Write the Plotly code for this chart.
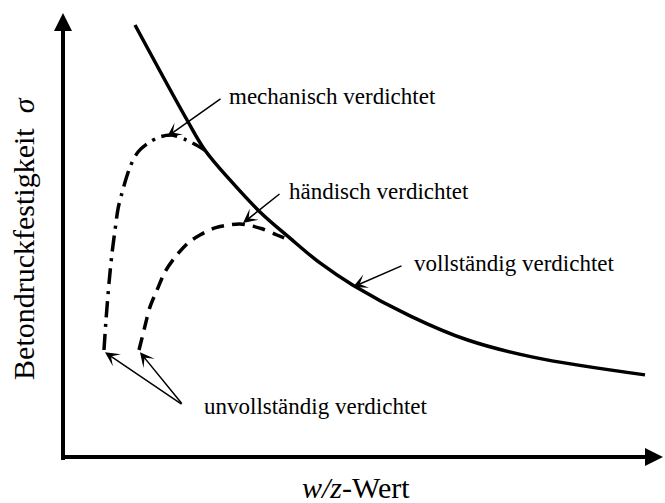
import plotly.graph_objects as go

# Data (arbitrary units: x = w/z-Wert, y = Betondruckfestigkeit)
full_x = [12.0, 20.67, 23.67, 27.83, 32.83, 37.83, 42.83, 48.33, 57.83, 67.33, 78.33, 97.0]
full_y = [97.3, 75.9, 69.1, 62.4, 55.2, 49.3, 43.7, 38.7, 31.8, 26.4, 22.5, 18.5]

mech_x = [6.83, 7.17, 7.67, 8.17, 8.67, 9.17, 9.83, 11.17, 12.5, 14.17, 16.17, 18.17, 21.33, 23.67]
mech_y = [24.1, 30.9, 39.2, 45.9, 51.1, 55.9, 59.5, 65.3, 68.7, 70.7, 72.1, 72.5, 70.9, 69.1]

hand_x = [12.67, 13.5, 14.5, 15.67, 17.0, 18.67, 20.83, 22.83, 25.33, 29.5, 33.17, 35.67, 37.83]
hand_y = [24.1, 28.6, 33.8, 37.6, 41.7, 45.0, 48.2, 50.0, 51.6, 52.5, 51.4, 50.0, 48.8]

labels = ["mechanisch&nbsp;verdichtet", "händisch&nbsp;verdichtet",
          "vollständig&nbsp;verdichtet", "unvollständig&nbsp;verdichtet"]
label_x = [27.33, 37.33, 58.17, 23.17]
label_y = [81.3, 59.7, 43.5, 11.4]

# arrows: (tail x, tail y, head x, head y)
arrow_tail_x = [26.5, 36.33, 56.67, 20.0, 20.0]
arrow_tail_y = [80.9, 59.5, 43.2, 11.7, 11.7]
arrow_head_x = [17.33, 30.0, 48.33, 7.0, 12.83]
arrow_head_y = [72.1, 52.7, 38.3, 23.6, 23.6]

FONT = "Liberation Serif, Times New Roman, serif"

fig = go.Figure()
fig.add_trace(go.Scatter(x=full_x, y=full_y, mode="lines",
                         line=dict(color="black", width=3.5, shape="spline", smoothing=1.0)))
fig.add_trace(go.Scatter(x=mech_x, y=mech_y, mode="lines",
                         line=dict(color="black", width=3.5, shape="spline", smoothing=0.8,
                                   dash="16px,7px,3px,7px")))
fig.add_trace(go.Scatter(x=hand_x, y=hand_y, mode="lines",
                         line=dict(color="black", width=3.5, shape="spline", smoothing=0.8,
                                   dash="13px,8px")))

annotations = []
# axes with arrowheads
annotations.append(dict(x=100, y=0, ax=0, ay=0, xref="x", yref="y", axref="x", ayref="y",
                        text="", showarrow=True, arrowhead=2, arrowsize=0.9, arrowwidth=4,
                        arrowcolor="black", standoff=0, startstandoff=0))
annotations.append(dict(x=0, y=100, ax=0, ay=-1, xref="x", yref="y", axref="x", ayref="y",
                        text="", showarrow=True, arrowhead=2, arrowsize=0.9, arrowwidth=4,
                        arrowcolor="black", standoff=0, startstandoff=0))

for tx, ty, hx, hy in zip(arrow_tail_x, arrow_tail_y, arrow_head_x, arrow_head_y):
    annotations.append(dict(x=hx, y=hy, ax=tx, ay=ty, xref="x", yref="y", axref="x", ayref="y",
                            text="", showarrow=True, arrowhead=3, arrowsize=1.6, arrowwidth=1.5,
                            arrowcolor="black", standoff=0, startstandoff=0))

for t, lx, ly in zip(labels, label_x, label_y):
    annotations.append(dict(x=lx, y=ly, xref="x", yref="y", text=t, showarrow=False,
                            xanchor="left", yanchor="middle",
                            font=dict(family=FONT, size=23, color="black")))

# axis titles
annotations.append(dict(x=0.488, y=-0.068, xref="paper", yref="paper",
                        text="<i>w/z</i>-Wert", showarrow=False,
                        xanchor="center", yanchor="middle",
                        font=dict(family=FONT, size=30, color="black")))
annotations.append(dict(x=-0.067, y=0.493, xref="paper", yref="paper",
                        text="Betondruckfestigkeit&nbsp;&nbsp;<i>σ</i>", showarrow=False,
                        textangle=-90, xanchor="center", yanchor="middle",
                        font=dict(family=FONT, size=30, color="black")))

fig.update_layout(
    width=665, height=503,
    margin=dict(l=63, r=2, t=13, b=46),
    paper_bgcolor="white", plot_bgcolor="white",
    showlegend=False,
    xaxis=dict(range=[0, 100], visible=False, fixedrange=True),
    yaxis=dict(range=[0, 100], visible=False, fixedrange=True),
    annotations=annotations,
)

fig.write_html("out.html", config={"displayModeBar": False, "staticPlot": True},
               post_script="document.body.style.margin='0';document.body.style.overflow='hidden';")
